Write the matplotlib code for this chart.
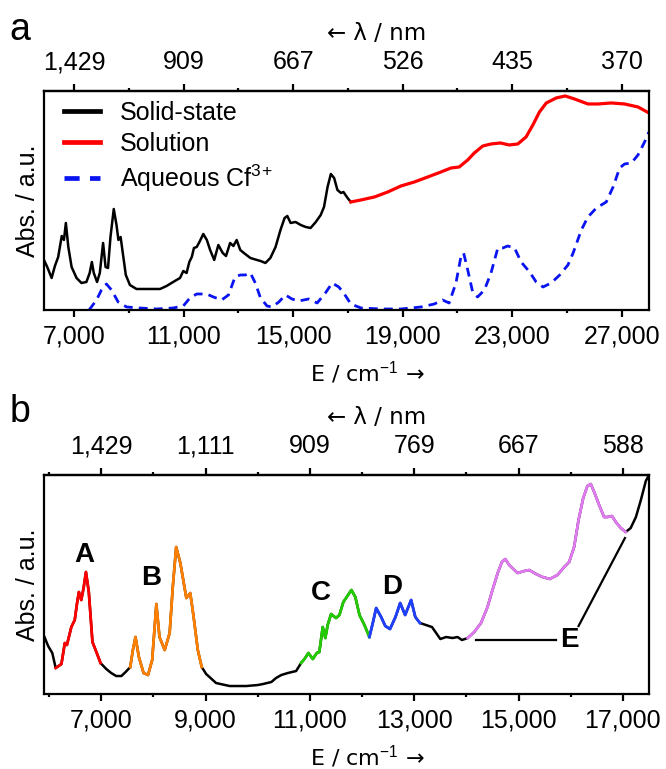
import numpy as np
import matplotlib
matplotlib.use("Agg")
import matplotlib.pyplot as plt
from matplotlib.ticker import FixedLocator, FuncFormatter

plt.rcParams['font.family'] = ['Liberation Sans', 'DejaVu Sans']
plt.rcParams['mathtext.fontset'] = 'custom'
plt.rcParams['mathtext.rm'] = 'Liberation Sans'
plt.rcParams['mathtext.it'] = 'Liberation Sans:italic'
plt.rcParams['mathtext.bf'] = 'Liberation Sans:bold'
plt.rcParams['font.size'] = 18

# ---- panel a data (energy in cm-1, absorbance in a.u.) ----
solid_E = [5900, 6020, 6180, 6300, 6420, 6550, 6630, 6700, 6790, 6910, 7090, 7270, 7450,
           7570, 7650, 7720, 7840, 7940, 8060, 8150, 8240, 8330, 8450, 8550, 8620, 8700,
           8790, 8890, 9040, 9280, 9650, 10140, 10380, 10620, 10870, 10990, 11110, 11210,
           11300, 11380, 11480, 11580, 11720, 11850, 11970, 12120, 12270, 12430, 12550,
           12700, 12820, 12940, 13070, 13250, 13440, 13680, 13810, 13990, 14170, 14360,
           14540, 14690, 14790, 14910, 15090, 15280, 15460, 15640, 15830, 16010, 16130,
           16260, 16380, 16500, 16620, 16750, 16840, 16990, 17110]
solid_A = [50, 43, 32, 44, 53, 74, 70, 87, 63, 43, 32, 27, 28,
           37, 48, 37, 28, 37, 67, 43, 42, 73, 101, 85, 70, 73,
           55, 35, 25, 21, 21, 21, 24, 28, 32, 39, 37, 48,
           53, 62, 63, 68, 76, 70, 60, 50, 65, 57, 54,
           67, 64, 70, 60, 56, 52, 50, 49, 47, 52, 63,
           80, 92, 94, 87, 88, 85, 83, 82, 88, 95, 103,
           123, 136, 132, 120, 117, 118, 112, 108]

solution_E = [17110, 17480, 17970, 18460, 18940, 19430, 19920, 20400, 20770, 21070, 21380,
              21620, 21930, 22230, 22570, 22900, 23210, 23510, 23760, 24000, 24250, 24610,
              24940, 25280, 25770, 26140, 26620, 27110, 27600, 28000]
solution_A = [108, 110, 113, 118, 124, 128, 133, 138, 142, 143, 150,
              157, 164, 166, 167, 165, 166, 173, 185, 198, 207, 212,
              214, 211, 206, 206, 207, 206, 203, 197]

aqueous_E = [7550, 7820, 8000, 8180, 8370, 8610, 8920, 9400, 10010, 10620, 10990, 11230,
             11480, 11840, 12090, 12390, 12640, 12880, 13070, 13250, 13440, 13620, 13810,
             14050, 14230, 14480, 14720, 14960, 15210, 15570, 15880, 16180, 16430, 16670,
             16850, 17110, 17480, 18210, 18940, 19670, 20160, 20460, 20700, 20950, 21130,
             21230, 21380, 21560, 21740, 21990, 22230, 22480, 22660, 22840, 23090, 23330,
             23640, 23880, 24130, 24430, 24740, 25040, 25230, 25530, 25770, 26080, 26440,
             26690, 26930, 27110, 27360, 27600, 27840, 28000]
aqueous_A = [0, 10, 20, 26, 20, 8, 3, 2, 1, 2, 4, 12,
             16, 16, 13, 10, 15, 33, 35, 35, 37, 27, 12,
             4, 3, 8, 15, 11, 9, 11, 7, 17, 27, 23,
             17, 6, 2, 1, 1, 3, 6, 10, 7, 27, 53,
             57, 40, 18, 13, 20, 37, 62, 62, 64, 62, 48,
             38, 28, 23, 27, 35, 45, 57, 80, 93, 102, 108,
             123, 142, 146, 147, 155, 168, 178]

a_ticks = [7000, 11000, 15000, 19000, 23000, 27000]
a_minor = [9000, 13000, 17000, 21000, 25000]
a_top_labels = ['1,429', '909', '667', '526', '435', '370']

# ---- panel b data (solid-state NIR/vis) ----
nir_E = [5910, 5980, 6060, 6125, 6235, 6300, 6340, 6425, 6490, 6535, 6570, 6615, 6660,
         6705, 6760, 6830, 6905, 6985, 7095, 7190, 7285, 7385, 7465, 7555, 7605, 7655,
         7720, 7810, 7895, 7975, 8055, 8115, 8215, 8310, 8370, 8435, 8515, 8630, 8705,
         8770, 8850, 8925, 9010, 9200, 9460, 9780, 10000, 10100, 10260, 10350, 10450,
         10575, 10735, 10830, 10895, 10970, 11055, 11130, 11180, 11245, 11295, 11340,
         11405, 11500, 11565, 11640, 11705, 11795, 11870, 11950, 12045, 12140, 12205,
         12270, 12365, 12445, 12535, 12640, 12730, 12825, 12940, 13020, 13110, 13225,
         13340, 13420, 13500, 13610, 13735, 13830, 13915, 14025, 14150, 14280, 14405,
         14500, 14600, 14680, 14745, 14820, 14980, 15110, 15205, 15335, 15460, 15600,
         15745, 15875, 15970, 16065, 16150, 16240, 16320, 16385, 16450, 16545, 16640,
         16705, 16790, 16865, 16960, 17055, 17150, 17250, 17345, 17440, 17500]
nir_A = [57, 48, 41, 26, 30, 51, 49, 67, 74, 91, 102, 94, 106,
         122, 102, 52, 42, 31, 25, 21, 18, 18, 22, 27, 44, 57,
         37, 21, 19, 34, 90, 57, 44, 61, 107, 147, 131, 96, 101,
         77, 44, 27, 20, 11, 8, 8, 9, 10, 12, 16, 19,
         21, 23, 31, 35, 41, 35, 41, 42, 67, 56, 69,
         80, 76, 79, 92, 97, 104, 97, 79, 69, 57, 71,
         86, 77, 68, 65, 77, 91, 79, 94, 77, 71, 69,
         67, 61, 55, 57, 56, 57, 54, 56, 62, 71, 87,
         104, 121, 132, 135, 129, 121, 123, 124, 120, 117, 115,
         119, 127, 132, 147, 174, 196, 208, 210, 202, 189, 177,
         177, 178, 172, 166, 162, 166, 177, 194, 213, 219]

band_names = ['A', 'B', 'C', 'D', 'E']
band_lo = [6125, 7555, 10830, 12140, 14025]
band_hi = [6985, 8925, 12140, 13110, 17055]
band_colors = ['#ff0000', '#ff8000', '#22cc00', '#2040ff', '#e27bf2']

b_ticks = [7000, 9000, 11000, 13000, 15000, 17000]
b_minor = [6000, 8000, 10000, 12000, 14000, 16000]
b_top_labels = ['1,429', '1,111', '909', '769', '667', '588']


def style_axes(ax, ticks, minor, top_labels):
    for s in ax.spines.values():
        s.set_linewidth(1.6)
    ax.set_yticks([])
    ax.set_xticks(ticks)
    ax.xaxis.set_minor_locator(FixedLocator(minor))
    ax.xaxis.set_major_formatter(FuncFormatter(lambda v, p: f'{v:,.0f}'))
    ax.tick_params(axis='x', which='major', direction='out', length=5, width=1.6, pad=5.5)
    ax.tick_params(axis='x', which='minor', direction='out', length=2.5, width=1.6)
    # arrows drawn in DejaVu Sans, which has full-size arrow glyphs
    ax.set_xlabel('E / cm$^{-1}$ \u2192', x=0.535, labelpad=7.5,
                  family=['DejaVu Sans'], fontsize=16)
    ax.set_ylabel('Abs. / a.u.', labelpad=3)
    top = ax.secondary_xaxis('top')
    top.set_xticks(ticks, labels=top_labels)
    top.xaxis.set_minor_locator(FixedLocator(minor))
    top.tick_params(axis='x', which='major', direction='out', length=5, width=1.6, pad=7)
    top.tick_params(axis='x', which='minor', direction='out', length=2.5, width=1.6)
    top.spines['top'].set_linewidth(1.6)
    top.set_xlabel('\u2190 \u03bb / nm', x=0.55, labelpad=7.5,
                   family=['DejaVu Sans'], fontsize=16.5)
    return top


fig = plt.figure(figsize=(6.66, 7.69), dpi=100)

# ---------------- panel a ----------------
ax1 = fig.add_axes([0.066, 0.5969, 0.9084, 0.2848])
ax1.plot(solid_E, solid_A, color='black', lw=1.8, label='Solid-state')
ax1.plot(solution_E, solution_A, color='#ff0000', lw=2.3, label='Solution')
ax1.plot(aqueous_E, aqueous_A, color='#0a14f0', lw=2.0, dashes=(3.2, 2.2),
         label=r'Aqueous Cf$^{3\!+}$')
ax1.set_xlim(5900, 28000)
ax1.set_ylim(0, 219)
style_axes(ax1, a_ticks, a_minor, a_top_labels)
leg = ax1.legend(loc='upper left', bbox_to_anchor=(0.033, 0.955), frameon=False,
                 borderpad=0, borderaxespad=0, handlelength=1.45, handletextpad=0.8,
                 labelspacing=0.28)
for h in leg.get_lines():
    h.set_linewidth(3.4)

# ---------------- panel b ----------------
ax2 = fig.add_axes([0.066, 0.0975, 0.9084, 0.2848])
nir_E = np.array(nir_E)
nir_A = np.array(nir_A)
ax2.plot(nir_E, nir_A, color='black', lw=1.8)
for name, lo, hi, c in zip(band_names, band_lo, band_hi, band_colors):
    m = (nir_E >= lo) & (nir_E <= hi)
    ax2.plot(nir_E[m], nir_A[m], color=c, lw=2.0)

label_pos = {'A': (6680, 139), 'B': (7960, 116), 'C': (11215, 101), 'D': (12570, 107)}
for k, (x, y) in label_pos.items():
    ax2.text(x, y, k, ha='center', va='center', fontsize=20, fontweight='bold')
ax2.text(15970, 54, 'E', ha='center', va='center', fontsize=20, fontweight='bold')
ax2.plot([14190, 15720], [54, 54], color='black', lw=1.6)
ax2.plot([16150, 17040], [68, 156], color='black', lw=1.6)

ax2.set_xlim(5900, 17500)
ax2.set_ylim(0, 219)
style_axes(ax2, b_ticks, b_minor, b_top_labels)

fig.text(0.030, 0.961, 'a', fontsize=27, ha='center', va='center')
fig.text(0.030, 0.464, 'b', fontsize=27, ha='center', va='center')

fig.savefig('out.png', dpi=100)
